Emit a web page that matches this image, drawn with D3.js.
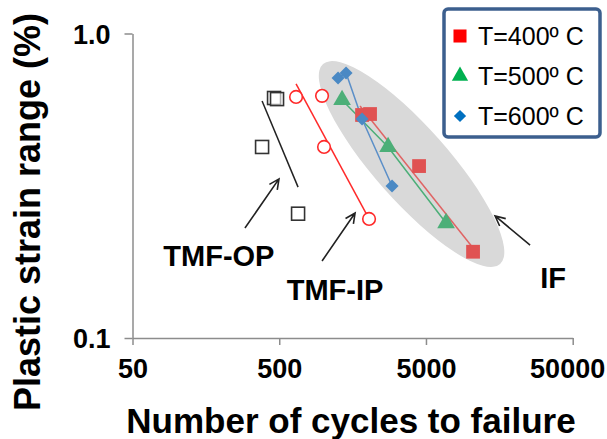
<!DOCTYPE html>
<html>
<head>
<meta charset="utf-8">
<script src="https://cdn.jsdelivr.net/npm/d3@7"></script>
<style>
  html, body { margin: 0; padding: 0; background: #fff; }
  svg { display: block; }
</style>
</head>
<body>
<svg id="chart" width="607" height="439"></svg>
<script>
// ---------------- data ----------------
const xTicks = [50, 500, 5000, 50000];
const yTicks = [0.1, 1.0];

// TMF-OP (open black squares)
const tmfOpN   = [461, 483, 382, 672];
const tmfOpEps = [0.614, 0.609, 0.424, 0.256];
const tmfOpFitN   = [382, 672];
const tmfOpFitEps = [0.600, 0.313];

// TMF-IP (open red circles)
const tmfIpN   = [651, 979, 1010, 2047];
const tmfIpEps = [0.619, 0.624, 0.424, 0.246];
const tmfIpFitN   = [651, 2047];
const tmfIpFitEps = [0.683, 0.246];

// IF series
const seriesNames = ["T=400º C", "T=500º C", "T=600º C"];
const if400N   = [1834, 2079, 4487, 10470];
const if400Eps = [0.540, 0.544, 0.367, 0.192];
const if400FitN   = [1777, 10470];
const if400FitEps = [0.578, 0.1975];
const if500N   = [1340, 2759, 6853];
const if500Eps = [0.605, 0.424, 0.2385];
const if600N   = [1259, 1427, 1834, 2936];
const if600Eps = [0.714, 0.742, 0.524, 0.3155];

// IF envelope (ellipse tips, data units)
const ellipseN   = [994, 16000];
const ellipseEps = [0.794, 0.175];

// annotation arrows [tail, head]
const arrowLabels = ["TMF-OP", "TMF-IP", "IF"];
const arrowN   = [[292, 498], [979, 1644], [25620, 14790]];
const arrowEps = [[0.2297, 0.333], [0.179, 0.2573], [0.202, 0.2516]];
const labelN   = [194, 1200, 36760];
const labelEps = [0.1724, 0.1333, 0.146];

// ---------------- drawing ----------------
const svg = d3.select("#chart");
const x = d3.scaleLog().domain([50, 50000]).range([132.5, 572.7]);
const y = d3.scaleLog().domain([0.1, 1]).range([338, 33.5]);
const FONT = "'Liberation Sans', Arial, sans-serif";

// ellipse
{
  const x1 = x(ellipseN[0]), y1 = y(ellipseEps[0]);
  const x2 = x(ellipseN[1]), y2 = y(ellipseEps[1]);
  const cx = (x1 + x2) / 2, cy = (y1 + y2) / 2;
  const rx = Math.hypot(x2 - x1, y2 - y1) / 2;
  const ang = Math.atan2(y2 - y1, x2 - x1) * 180 / Math.PI;
  svg.append("ellipse")
    .attr("cx", cx).attr("cy", cy).attr("rx", rx).attr("ry", 37)
    .attr("transform", `rotate(${ang},${cx},${cy})`)
    .attr("fill", "#d9d9d9");
}

// axes
const xAxis = svg.append("g").attr("transform", `translate(0,${y(0.1)})`)
  .call(d3.axisBottom(x).tickValues(xTicks).tickFormat(d3.format("d")).tickSize(7).tickSizeOuter(0));
const yAxis = svg.append("g").attr("transform", `translate(${x(50)},0)`)
  .call(d3.axisLeft(y).tickValues(yTicks).tickFormat(d3.format(".1f")).tickSize(8).tickSizeOuter(0));
[xAxis, yAxis].forEach(g => {
  g.select(".domain").attr("stroke", "#8c8c8c").attr("stroke-width", 1.5);
  g.selectAll(".tick line").attr("stroke", "#8c8c8c").attr("stroke-width", 1.5);
  g.selectAll(".tick text").attr("fill", "#000")
    .style("font-family", FONT).style("font-weight", "bold").style("font-size", "27px");
});
xAxis.selectAll(".tick text").attr("y", 40).attr("dy", null);
// keep the last label inside the picture, as the original does
xAxis.selectAll(".tick text").filter(d => d === 50000).attr("text-anchor", "end").attr("x", 32);
yAxis.selectAll(".tick text").attr("x", -22).attr("dy", "0.36em");

// axis titles
svg.append("text")
  .attr("x", 351).attr("y", 433).attr("text-anchor", "middle")
  .style("font-family", FONT).style("font-weight", "bold").style("font-size", "35px")
  .text("Number of cycles to failure");
svg.append("text")
  .attr("transform", "translate(40,212) rotate(-90)").attr("text-anchor", "middle")
  .style("font-family", FONT).style("font-weight", "bold").style("font-size", "36px")
  .text("Plastic strain range (%)");

const line = d3.line().x(d => x(d[0])).y(d => y(d[1]));
const zip = (a, b) => a.map((v, i) => [v, b[i]]);

// fit / connecting lines
svg.append("path").attr("d", line(zip(tmfOpFitN, tmfOpFitEps)))
  .attr("stroke", "#222").attr("stroke-width", 1.5).attr("fill", "none");
svg.append("path").attr("d", line(zip(tmfIpFitN, tmfIpFitEps)))
  .attr("stroke", "#ff2a2a").attr("stroke-width", 1.5).attr("fill", "none");
svg.append("path").attr("d", line(zip(if400FitN, if400FitEps)))
  .attr("stroke", "#e06464").attr("stroke-width", 1.5).attr("fill", "none");
svg.append("path").attr("d", line(zip(if500N, if500Eps)))
  .attr("stroke", "#4caf78").attr("stroke-width", 1.5).attr("fill", "none");
svg.append("path").attr("d", line(zip(if600N, if600Eps)))
  .attr("stroke", "#5b8fc8").attr("stroke-width", 1.5).attr("fill", "none");

// TMF markers
svg.append("g").selectAll("rect").data(zip(tmfOpN, tmfOpEps)).join("rect")
  .attr("x", d => x(d[0]) - 6.5).attr("y", d => y(d[1]) - 6.5)
  .attr("width", 13).attr("height", 13)
  .attr("fill", "#fff").attr("fill-opacity", 0.6).attr("stroke", "#333").attr("stroke-width", 1.6);
svg.append("g").selectAll("circle").data(zip(tmfIpN, tmfIpEps)).join("circle")
  .attr("cx", d => x(d[0])).attr("cy", d => y(d[1])).attr("r", 6.3)
  .attr("fill", "#fff").attr("stroke", "#ff2a2a").attr("stroke-width", 1.6);

// IF markers
const sym400 = d3.symbol().type(d3.symbolSquare).size(190);
const sym500 = d3.symbol().type(d3.symbolTriangle).size(135);
const sym600 = d3.symbol().type(d3.symbolSquare).size(85);
svg.append("g").selectAll("path").data(zip(if400N, if400Eps)).join("path")
  .attr("d", sym400).attr("transform", d => `translate(${x(d[0])},${y(d[1])})`).attr("fill", "#e05252");
svg.append("g").selectAll("path").data(zip(if500N, if500Eps)).join("path")
  .attr("d", sym500).attr("transform", d => `translate(${x(d[0])},${y(d[1])})`).attr("fill", "#4caf78");
svg.append("g").selectAll("path").data(zip(if600N, if600Eps)).join("path")
  .attr("d", sym600).attr("transform", d => `translate(${x(d[0])},${y(d[1])}) rotate(45)`).attr("fill", "#4a89c4");

// arrows and labels
arrowLabels.forEach((lab, i) => {
  const tx = x(arrowN[i][0]), ty = y(arrowEps[i][0]);
  const hx = x(arrowN[i][1]), hy = y(arrowEps[i][1]);
  const a = Math.atan2(hy - ty, hx - tx);
  const L = 11, w = 0.45;
  const p1 = [hx - L * Math.cos(a - w), hy - L * Math.sin(a - w)];
  const p2 = [hx - L * Math.cos(a + w), hy - L * Math.sin(a + w)];
  svg.append("path")
    .attr("d", `M${tx},${ty}L${hx},${hy}M${p1[0]},${p1[1]}L${hx},${hy}L${p2[0]},${p2[1]}`)
    .attr("stroke", "#222").attr("stroke-width", 1.6).attr("fill", "none");
  svg.append("text")
    .attr("x", x(labelN[i])).attr("y", y(labelEps[i])).attr("text-anchor", "middle")
    .style("font-family", FONT).style("font-weight", "bold").style("font-size", "29px")
    .text(lab);
});

// legend
const leg = svg.append("g");
leg.append("rect").attr("x", 444).attr("y", 9).attr("width", 156).attr("height", 128)
  .attr("rx", 4).attr("fill", "#fff").attr("stroke", "#3c5f8e").attr("stroke-width", 3.5);
const legSyms = [
  d3.symbol().type(d3.symbolSquare).size(170),
  d3.symbol().type(d3.symbolTriangle).size(115),
  d3.symbol().type(d3.symbolSquare).size(75)
];
const legRot = [0, 0, 45];
const legColors = ["#ff0000", "#00b050", "#0070c0"];
seriesNames.forEach((name, i) => {
  const cy = 36 + i * 40;
  leg.append("path").attr("d", legSyms[i])
    .attr("transform", `translate(460,${cy}) rotate(${legRot[i]})`).attr("fill", legColors[i]);
  leg.append("text").attr("x", 478).attr("y", cy + 9)
    .style("font-family", FONT).style("font-size", "25px").attr("fill", "#000")
    .text(name);
});
</script>
</body>
</html>
